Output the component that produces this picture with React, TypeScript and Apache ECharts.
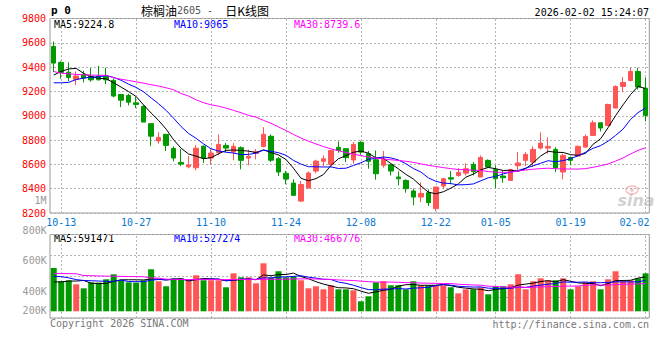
import React, { useEffect, useRef } from 'react';
import * as echarts from 'echarts';

// ---------------- data ----------------
const dates = ['10-10','10-13','10-14','10-15','10-16','10-17','10-20','10-21','10-22','10-23','10-24','10-27','10-28','10-29','10-30','10-31','11-03','11-04','11-05','11-06','11-07','11-10','11-11','11-12','11-13','11-14','11-17','11-18','11-19','11-20','11-21','11-24','11-25','11-26','11-27','11-28','12-01','12-02','12-03','12-04','12-05','12-08','12-09','12-10','12-11','12-12','12-15','12-16','12-17','12-18','12-19','12-22','12-23','12-24','12-25','12-26','12-29','12-30','12-31','01-05','01-06','01-07','01-08','01-09','01-12','01-13','01-14','01-15','01-16','01-19','01-20','01-21','01-22','01-23','01-26','01-27','01-28','01-29','01-30','02-02'];

const opens = [9570,9439,9358,9299,9338,9325,9328,9325,9291,9175, 9167,9107,9078,8935,8793,8847,8731,8616,8580,8572, 8750,8652,8696,8756,8701,8737,8652,8690,8748,8831, 8647,8526,8446,8298,8405,8545,8625,8600,8740,8729, 8636,8781,8688,8638,8592,8597,8496,8468,8381,8331, 8367,8236,8422,8490,8509,8528,8600,8496,8633,8556, 8504,8468,8589,8633,8619,8734,8734,8723,8537,8657, 8668,8742,8838,8942,8920,9063,9241,9290,9364,9227];
const closes = [9433,9356,9315,9327,9309,9295,9296,9295,9162,9128, 9112,9093,8948,8832,8822,8756,8652,8603,8594,8733, 8652,8693,8764,8734,8748,8633,8666,8704,8847,8634, 8537,8479,8345,8435,8529,8627,8646,8715,8715,8655, 8764,8701,8625,8523,8641,8545,8482,8400,8331,8361, 8285,8414,8482,8479,8534,8564,8540,8657,8578,8482, 8490,8556,8611,8682,8723,8775,8748,8570,8674,8633, 8748,8830,8942,8899,9093,9241,9274,9364,9236,9003];
const lows = [9360,9304,9285,9252,9274,9280,9290,9260,9152,9071, 9085,9063,8948,8752,8770,8710,8625,8586,8567,8550, 8612,8600,8674,8701,8633,8559,8592,8641,8740,8619, 8504,8436,8345,8290,8405,8526,8584,8578,8696,8619, 8605,8679,8564,8474,8573,8509,8427,8367,8263,8290, 8257,8216,8400,8436,8498,8509,8509,8496,8573,8405, 8449,8463,8551,8586,8578,8723,8688,8537,8477,8592, 8660,8737,8838,8871,8915,9063,9194,9282,9216,8953];
const highs = [9611,9451,9440,9365,9370,9392,9410,9395,9305,9178, 9181,9153,9085,8936,8864,8847,8748,8726,8668,8759, 8756,8726,8846,8775,8775,8748,8721,8726,8906,8846, 8660,8545,8477,8463,8542,8638,8674,8715,8789,8729, 8784,8794,8710,8715,8710,8605,8542,8477,8400,8452, 8394,8414,8490,8545,8570,8608,8619,8674,8641,8592, 8550,8564,8701,8701,8748,8863,8822,8742,8688,8660, 8756,8846,8962,8942,9099,9249,9318,9394,9394,9315];

const volumes = [745000,516000,533000,464000,395000,498000,493000,550000,636000,533000, 498000,493000,533000,722000,516000,430000,567000,567000,533000,619000, 533000,533000,533000,413000,653000,584000,584000,481000,825000,584000, 688000,584000,602000,533000,395000,430000,378000,447000,378000,378000, 361000,172000,258000,498000,516000,447000,447000,378000,516000,447000, 447000,447000,447000,413000,309000,378000,378000,413000,292000,430000, 430000,464000,636000,378000,516000,567000,533000,533000,567000,378000, 430000,498000,516000,378000,550000,688000,516000,533000,567000,653000];

// moving-average values before enough days exist inside the window
const ma5Head = [9335, 9365, 9385, 9390];
const ma10Head = [9271, 9271, 9275, 9298, 9310, 9318, 9320, 9330, 9315];
const ma30Head = [9364,9350,9345,9340,9337,9335,9333,9333,9312,9301,9290,9279,9268,9255,9244,9230,9214,9183,9162,9131,9107,9090,9079,9063,9044,9025,9003,8989,8962];
const volMa5Head = [505000, 505000, 520000, 520000];
const volMa10Head = [600000, 595000, 575000, 545000, 530000, 525000, 520000, 515000, 515000];
const volMa30Head = [648000,648000,648000,645000,615000,612000,608000,605000,602000,600000,598000,596000,594000,572000,570000,552000,550000,548000,546000,545000,545000,545000,545000,545000,546000,547000,548000,549000,550000];

const xLabels = ['10-13','10-27','11-10','11-24','12-08','12-22','01-05','01-19','02-02'];
const priceMin = 8200;
const priceMax = 9800;
const priceStep = 200;
const volTickLabels = ['800K', '600K', '400K', '200K'];
const sideLabel = '1M';
const maLegend = ['MA5:9224.8', 'MA10:9065', 'MA30:8739.6'];
const volMaLegend = ['MA5:591471', 'MA10:527274', 'MA30:466776'];
const titleName = '棕榈油';
const titleCode = '2605';
const titleKind = '日K线图';
const stamp = '2026-02-02 15:24:07';

// ---------------- helpers ----------------
function movingAvg(values: number[], n: number, head: number[]): number[] {
  return values.map((_, i) => {
    if (i < n - 1) return head[i];
    let s = 0;
    for (let k = i - n + 1; k <= i; k++) s += values[k];
    return Math.round((s / n) * 10) / 10;
  });
}

const UP = '#ff5555';
const DOWN = '#009900';
const MONO = '"DejaVu Sans Mono", monospace';
const GRID_LINE = { color: '#b4b4b4', type: [2, 2] as any, width: 1 };
const MA_COLORS = ['#000000', '#0000ff', '#ff00ff'];

export default function App() {
  const ref = useRef<HTMLDivElement>(null);

  useEffect(() => {
    if (!ref.current) return;
    const chart = echarts.init(ref.current, undefined, { renderer: 'svg' });

    const ma5 = movingAvg(closes, 5, ma5Head);
    const ma10 = movingAvg(closes, 10, ma10Head);
    const ma30 = movingAvg(closes, 30, ma30Head);
    const vma5 = movingAvg(volumes, 5, volMa5Head);
    const vma10 = movingAvg(volumes, 10, volMa10Head);
    const vma30 = movingAvg(volumes, 30, volMa30Head);

    const lastLabel = xLabels[xLabels.length - 1];
    const legendX = [54, 174, 294];
    const volLabelY = [230.5, 260.7, 291, 310.7];

    const graphic: any[] = [
      { type: 'text', x: 51, y: 10, style: { text: 'p 0', fill: '#000', font: `bold 11px ${MONO}`, textAlign: 'left', textVerticalAlign: 'middle' } },
      {
        type: 'text', x: 141, y: 10,
        style: {
          text: `{a|${titleName}}{b|${titleCode} -  }{a|${titleKind}}`,
          textAlign: 'left', textVerticalAlign: 'middle',
          rich: {
            a: { fontSize: 12, fontFamily: '"Noto Sans CJK SC", sans-serif', fill: '#000', color: '#000' },
            b: { fontSize: 10, fontFamily: MONO, fill: '#555', color: '#555' },
          },
        },
      },
      { type: 'text', x: 649, y: 12, style: { text: stamp, fill: '#000', font: `10px ${MONO}`, textAlign: 'right', textVerticalAlign: 'middle' } },
      { type: 'text', x: 46.5, y: 200.7, style: { text: sideLabel, fill: '#999', font: `10px ${MONO}`, textAlign: 'right', textVerticalAlign: 'middle' } },
      { type: 'text', x: 50, y: 323.5, style: { text: 'Copyright 2026 SINA.COM', fill: '#777', font: `10px ${MONO}`, textAlign: 'left', textVerticalAlign: 'middle' } },
      { type: 'text', x: 649, y: 324, style: { text: 'http://finance.sina.com.cn', fill: '#777', font: `10px ${MONO}`, textAlign: 'right', textVerticalAlign: 'middle' } },
      { type: 'ellipse', shape: { cx: 632, cy: 190, rx: 6, ry: 4 }, style: { fill: 'none', stroke: 'rgba(230,110,110,0.45)', lineWidth: 1.5 }, z: 0 },
      { type: 'circle', shape: { cx: 632, cy: 190, r: 1.8 }, style: { fill: 'rgba(230,110,110,0.45)' }, z: 0 },
      { type: 'text', x: 636, y: 200, style: { text: 'sina', fill: 'rgba(150,150,150,0.45)', font: 'italic bold 16px "DejaVu Sans", sans-serif', textAlign: 'center', textVerticalAlign: 'middle' }, z: 0 },
    ];
    maLegend.forEach((t, i) => {
      graphic.push({ type: 'text', x: legendX[i], y: 24.3, style: { text: t, fill: MA_COLORS[i], font: `10px ${MONO}`, textAlign: 'left', textVerticalAlign: 'middle' } });
    });
    volMaLegend.forEach((t, i) => {
      graphic.push({ type: 'text', x: legendX[i], y: 238.5, style: { text: t, fill: MA_COLORS[i], font: `10px ${MONO}`, textAlign: 'left', textVerticalAlign: 'middle' } });
    });
    volTickLabels.forEach((t, i) => {
      graphic.push({ type: 'text', x: 46.7, y: volLabelY[i], style: { text: t, fill: '#999', font: `10px ${MONO}`, textAlign: 'right', textVerticalAlign: 'middle' } });
    });

    const vLines = (z: number) => ({
      silent: true,
      z,
      symbol: ['none', 'none'],
      label: { show: false },
      lineStyle: GRID_LINE,
      emphasis: { disabled: true },
      data: xLabels.map((d) => ({ xAxis: d })),
    });

    const option: any = {
      animation: false,
      backgroundColor: '#fff',
      grid: [
        { left: 50, top: 18.5, width: 599.3, height: 194.5, show: true, borderColor: '#999', borderWidth: 1, backgroundColor: 'transparent' },
        { left: 50, top: 234.5, width: 599.3, height: 83.5, show: true, borderColor: '#999', borderWidth: 1, backgroundColor: 'transparent' },
      ],
      xAxis: [
        {
          type: 'category', gridIndex: 0, data: dates, boundaryGap: true,
          axisLine: { show: false }, axisTick: { show: false }, splitLine: { show: false },
          axisLabel: {
            interval: (_i: number, v: string) => xLabels.includes(v),
            color: '#0a78d2', fontFamily: MONO, fontSize: 10, margin: 4,
            formatter: (v: string) => (v === lastLabel ? `{e|${v}}` : v),
            rich: { e: { color: '#0a78d2', fontFamily: MONO, fontSize: 10, padding: [0, 22, 0, 0] } },
          },
        },
        {
          type: 'category', gridIndex: 1, data: dates, boundaryGap: true,
          axisLine: { show: false }, axisTick: { show: false }, axisLabel: { show: false }, splitLine: { show: false },
        },
      ],
      yAxis: [
        {
          type: 'value', gridIndex: 0, min: priceMin, max: priceMax, interval: priceStep,
          axisLine: { show: false }, axisTick: { show: false },
          axisLabel: { color: '#f00', fontFamily: MONO, fontSize: 10, margin: 4, formatter: (v: number) => String(v) },
          splitLine: { show: true, lineStyle: GRID_LINE },
        },
        { type: 'value', gridIndex: 1, min: -115000, max: 1320000, show: false, splitLine: { show: false } },
        {
          type: 'value', gridIndex: 1, min: 0, max: 4, interval: 1, position: 'left',
          axisLine: { show: false }, axisTick: { show: false }, axisLabel: { show: false },
          splitLine: { show: true, lineStyle: GRID_LINE },
        },
      ],
      graphic,
      series: [
        {
          type: 'candlestick', xAxisIndex: 0, yAxisIndex: 0, barWidth: 5,
          data: dates.map((_, i) => [opens[i], closes[i], lows[i], highs[i]]),
          itemStyle: { color: UP, color0: DOWN, borderColor: UP, borderColor0: DOWN, borderWidth: 1 },
          markLine: vLines(1),
          z: 3,
        },
        ...[ma5, ma10, ma30].map((d, i) => ({
          type: 'line', xAxisIndex: 0, yAxisIndex: 0, data: d, symbol: 'none', silent: true,
          lineStyle: { color: MA_COLORS[i], width: 1 }, z: 4,
        })),
        {
          type: 'bar', xAxisIndex: 1, yAxisIndex: 1, barWidth: 6,
          data: volumes.map((v, i) => ({ value: v, itemStyle: { color: closes[i] >= opens[i] ? UP : DOWN } })),
          markLine: vLines(1),
          z: 3,
        },
        ...[vma5, vma10, vma30].map((d, i) => ({
          type: 'line', xAxisIndex: 1, yAxisIndex: 1, data: d, symbol: 'none', silent: true,
          lineStyle: { color: MA_COLORS[i], width: 1 }, z: 4,
        })),
      ],
    };

    chart.setOption(option);
    return () => chart.dispose();
  }, []);

  return <div ref={ref} style={{ position: 'fixed', left: 0, top: 0, width: 660, height: 360, background: '#fff' }} />;
}
